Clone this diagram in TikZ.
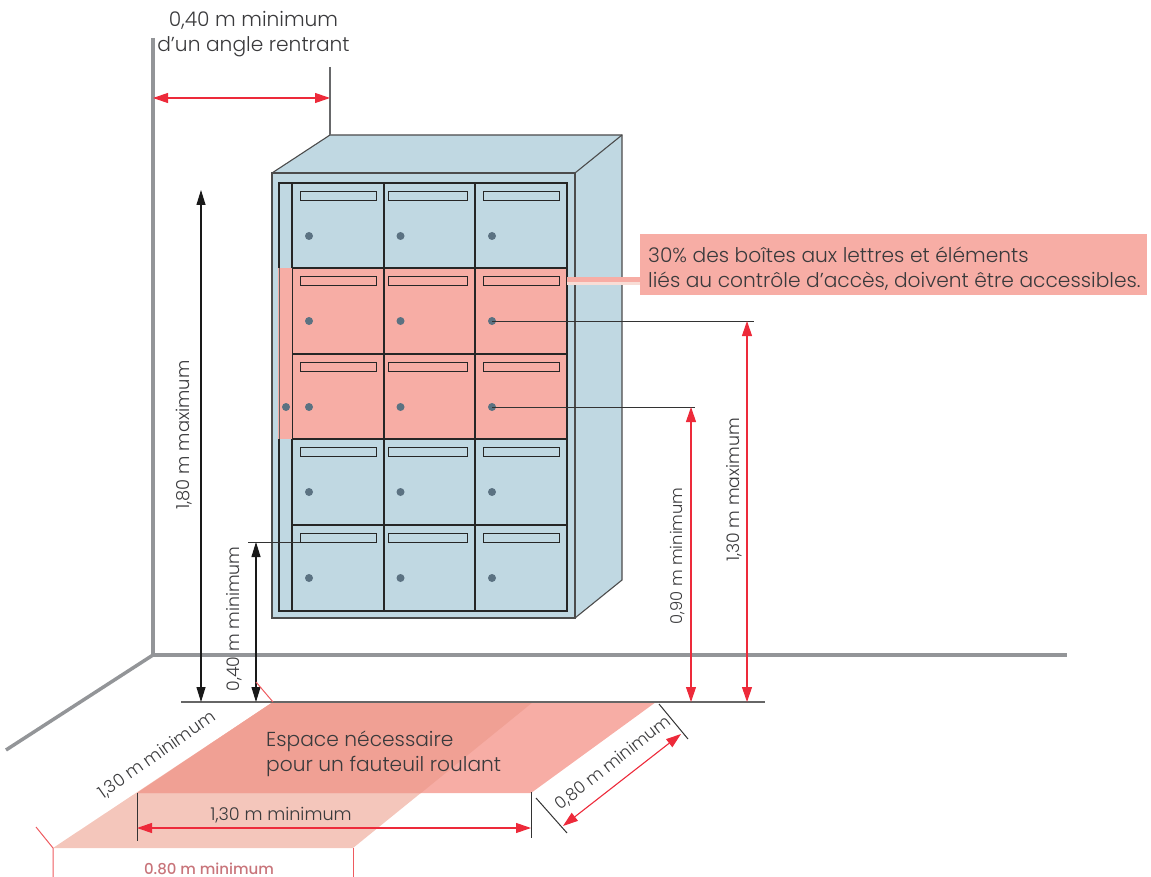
\documentclass[tikz,border=0pt]{standalone}
\usepackage{fontspec}
\setmainfont{Poppins}[UprightFont=* Light,BoldFont=* Medium]
\usetikzlibrary{arrows.meta}
\definecolor{cab}{HTML}{C0D8E2}
\definecolor{pk}{HTML}{F7ADA5}
\definecolor{pkl}{HTML}{F4C6BB}
\definecolor{pkd}{HTML}{F0A094}
\definecolor{redd}{HTML}{ED2A3A}
\definecolor{gr}{HTML}{939598}
\definecolor{txt}{HTML}{3A3A3C}
\definecolor{dots}{HTML}{5B7282}
\definecolor{tickred}{HTML}{EE5A5F}
\definecolor{dullred}{HTML}{C8747A}
\tikzset{
 wall/.style={draw=gr,line width=3.5pt},
 box/.style={draw=black!85,line width=1.1pt},
 thin line/.style={draw=black!80,line width=.9pt},
 redarrow/.style={draw=redd,line width=1.1pt,{Triangle[length=15pt,width=10pt]}-{Triangle[length=15pt,width=10pt]}},
 blackarrow/.style={draw=black!90,line width=1.1pt,{Triangle[length=15pt,width=9pt]}-{Triangle[length=15pt,width=9pt]}},
 redtick/.style={draw=tickred,line width=1pt},
 lab/.style={text=txt,inner sep=0pt,font=\fontsize{20.2}{25}\selectfont,align=center},
 dim/.style={lab,font=\fontsize{17.3}{21}\selectfont},
 keydot/.style={circle,fill=dots,draw=none,minimum size=8pt,inner sep=0pt},
}
\begin{document}
\begin{tikzpicture}[x=1pt,y=-1pt]
\useasboundingbox (0,0) rectangle (1151,877);
% room
\coordinate (wallTop) at (153,38);
\coordinate (corner) at (153,655);
\coordinate (floorR) at (1067,655);
\coordinate (floorL) at (6,750);
\draw[wall,line join=miter] (wallTop) -- (corner) -- (floorR);
\draw[wall] (corner) -- (floorL);
% floor zones
\coordinate (a1) at (273,702); \coordinate (a2) at (656,702);
\coordinate (a3) at (531,793); \coordinate (a4) at (137,793);
\coordinate (b2) at (533,702); \coordinate (b3) at (353,848);
\coordinate (b4) at (53,848); \coordinate (c3) at (421,793);
\fill[pkl] (a1) -- (b2) -- (b3) -- (b4) -- cycle;
\fill[pk] (a1) -- (a2) -- (a3) -- (a4) -- cycle;
\fill[pkd] (a1) -- (b2) -- (c3) -- (a4) -- cycle;
% cabinet
\fill[cab] (272,173) -- (330,135) -- (622,135) -- (622,580) -- (575,618) -- (272,618) -- cycle;
\fill[pk] (279,268) rectangle (567,439);
\draw[box,draw=black!70] (272,173) rectangle (575,618);
\draw[box,draw=black!70] (272,173) -- (330,135) -- (622,135) -- (622,580) -- (575,618);
\draw[box,draw=black!70] (575,173) -- (622,135);
\draw[box] (279,183) rectangle (567,611);
\draw[box] (292,183) -- (292,611);
\draw[box] (384,183) -- (384,611);
\draw[box] (475,183) -- (475,611);
\foreach \y in {268,354,439,525} \draw[box] (292,\y) -- (567,\y);
\fill[pk] (277.8,268) rectangle (291.5,439);
\draw[box,draw=black!60,line width=.7pt] (279,268) -- (279,439);
\foreach \y [count=\r] in {183,268,354,439,525} {
 \draw[box,line width=1pt] (300,\y+8.5) rectangle (376,\y+17.5);
 \draw[box,line width=1pt] (388.5,\y+8.5) rectangle (467,\y+17.5);
 \draw[box,line width=1pt] (483,\y+8.5) rectangle (559,\y+17.5);
 \node[keydot] (k1\r) at (309,\y+53) {};
 \node[keydot] (k2\r) at (400.5,\y+53) {};
 \node[keydot] (k3\r) at (492,\y+53) {};
}
\node[keydot] (kside) at (286,407) {};
% callout
\coordinate (lead1) at (567,279.5); \coordinate (lead2) at (640,279.5);
\coordinate (lead3) at (567,283.5); \coordinate (lead4) at (640,283.5);
\draw[pk,line width=5pt] (lead1) -- (lead2);
\draw[pkl!60,line width=2.5pt] (lead3) -- (lead4);
\node[fill=pk,minimum width=507pt,minimum height=61pt,inner sep=0pt] (callout) at (893.5,264.5) {};
\node[lab,anchor=base west] (t1) at (648,262.5) {30\% des boîtes aux lettres et éléments};
\node[lab,anchor=base west] (t2) at (648,288) {liés au contrôle d'accès, doivent être accessibles.};
% ground line
\coordinate (gL) at (181,702); \coordinate (gR) at (765,702);
\draw[draw=black!60,line width=1.5pt] (gL) -- (gR);
% leaders
\coordinate (l13) at (754,321); \coordinate (l09) at (695,407);
\coordinate (l04a) at (248,542); \coordinate (l04b) at (300,542);
\draw[thin line] (k32.center) -- (l13);
\draw[thin line] (k33.center) -- (l09);
\draw[thin line] (l04a) -- (l04b);
% top dimension
\coordinate (w40) at (330,67); \coordinate (w40b) at (330,135);
\draw[draw=gr!70!black,line width=1.2pt] (w40) -- (w40b);
\coordinate (d40a) at (153,98); \coordinate (d40b) at (330,98);
\draw[redarrow] (d40a) -- (d40b);
\node[lab] (top) at (253.5,34) {0,40 m minimum\\d’un angle rentrant};
% vertical dims
\coordinate (v18a) at (201,190); \coordinate (v18b) at (201,702);
\draw[blackarrow] (v18a) -- (v18b);
\node[dim,rotate=90,font=\fontsize{17.9}{21}\selectfont] (n18) at (184,435) {1,80 m maximum};
\coordinate (v04a) at (256,542); \coordinate (v04b) at (256,702);
\draw[blackarrow] (v04a) -- (v04b);
\node[dim,rotate=90] (n04) at (234,619) {0,40 m minimum};
\coordinate (v09a) at (691,407); \coordinate (v09b) at (691,702);
\draw[redarrow] (v09a) -- (v09b);
\node[dim,rotate=90,font=\fontsize{16.3}{20}\selectfont] (n09) at (678,556) {0,90 m minimum};
\coordinate (v13a) at (747,321); \coordinate (v13b) at (747,702);
\draw[redarrow] (v13a) -- (v13b);
\node[dim,rotate=90] (n13) at (734,490) {1,30 m maximum};
% red ticks
\coordinate (rt1) at (256,682);
\draw[redtick] (rt1) -- (a1);
\coordinate (rt2) at (36,827); \coordinate (rt3) at (53,877); \coordinate (rt4) at (353,877);
\draw[redtick] (rt2) -- (b4) -- (rt3);
\draw[redtick] (b3) -- (rt4);
% floor dims
\coordinate (h1) at (137,841); \coordinate (h2a) at (531,792); \coordinate (h2) at (531,838);
\draw[draw=black!80,line width=1pt] (a4) -- (h1);
\draw[draw=black!80,line width=1pt] (h2a) -- (h2);
\coordinate (ha) at (137,828); \coordinate (hb) at (531,828);
\draw[redarrow] (ha) -- (hb);
\node[dim,font=\fontsize{17.6}{21}\selectfont] (n13h) at (281,815) {1,30 m minimum};
\coordinate (s1a) at (659,704); \coordinate (s1b) at (688,739);
\coordinate (s2a) at (536,798); \coordinate (s2b) at (567,833);
\draw[draw=black!80,line width=1pt] (s1a) -- (s1b);
\draw[draw=black!80,line width=1pt] (s2a) -- (s2b);
\coordinate (da) at (563,826); \coordinate (db) at (681,734);
\draw[redarrow] (da) -- (db);
\node[dim,rotate=38,font=\fontsize{16.8}{20}\selectfont] (n08) at (613,763) {0,80 m minimum};
\node[dim,rotate=35] (n13d) at (157,755) {1,30 m minimum};
\node[lab,anchor=base west,align=left] (esp1) at (266,746) {Espace nécessaire};
\node[lab,anchor=base west,align=left] (esp2) at (266,771) {pour un fauteuil roulant};
\node[inner sep=0pt,text=dullred,font=\fontsize{15}{18}\selectfont\bfseries] (n08b) at (209,868.5) {0.80 m minimum};
\end{tikzpicture}
\end{document}
